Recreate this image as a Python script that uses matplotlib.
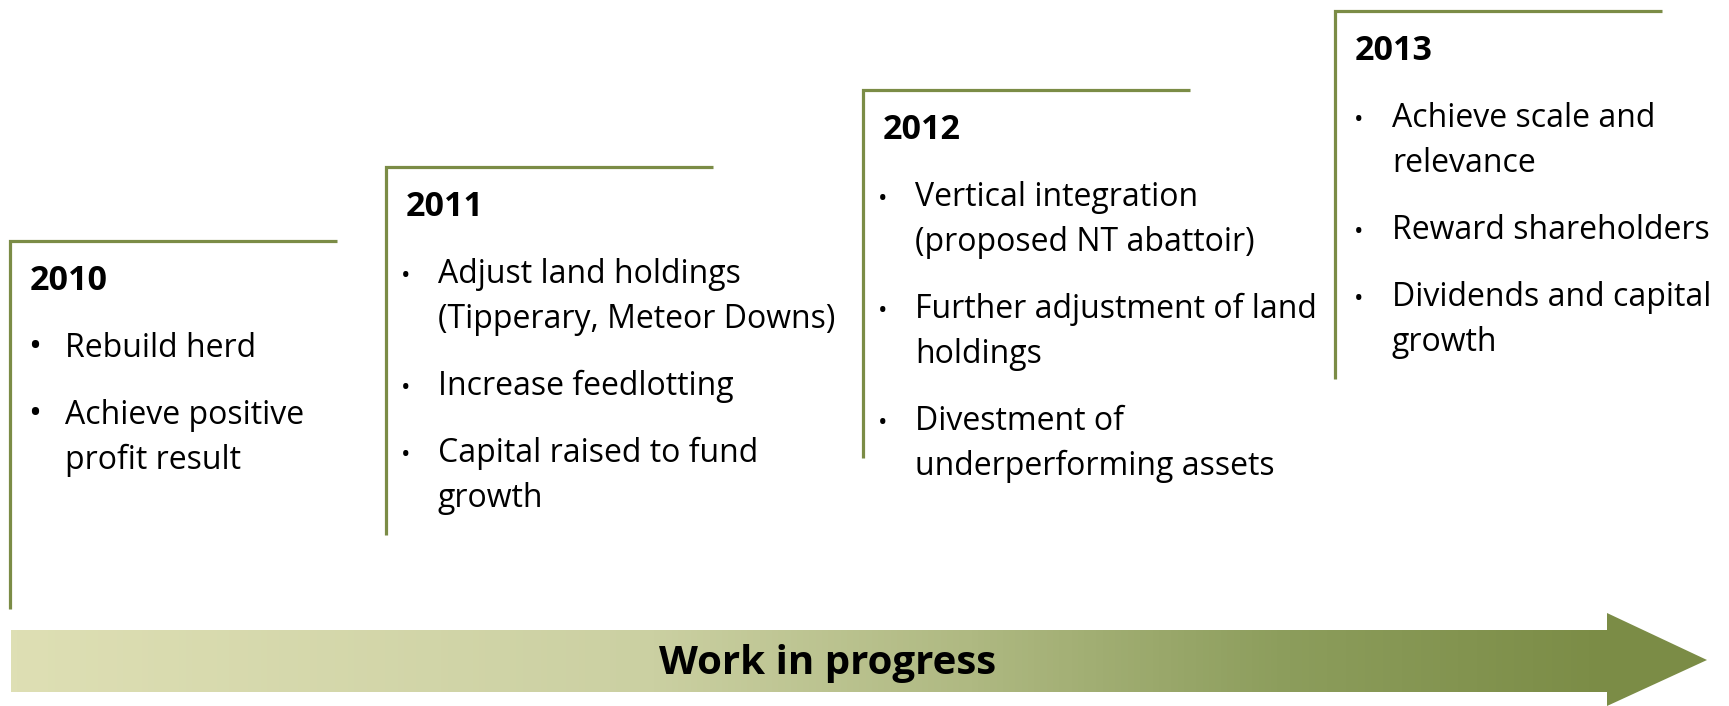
import matplotlib.pyplot as plt
import numpy as np
from matplotlib.colors import LinearSegmentedColormap
from matplotlib.patches import Polygon

plt.rcParams['font.family'] = ['Open Sans', 'DejaVu Sans']

# content
years = ['2010', '2011', '2012', '2013']
items_2010 = ['Rebuild herd', 'Achieve positive\nprofit result']
items_2011 = ['Adjust land holdings\n(Tipperary, Meteor Downs)', 'Increase feedlotting',
              'Capital raised to fund\ngrowth']
items_2012 = ['Vertical integration\n(proposed NT abattoir)', 'Further adjustment of land\nholdings',
              'Divestment of\nunderperforming assets']
items_2013 = ['Achieve scale and\nrelevance', 'Reward shareholders', 'Dividends and capital\ngrowth']
items = [items_2010, items_2011, items_2012, items_2013]
arrow_label = 'Work in progress'

# layout (pixel coords of the 1729x706 canvas)
W, H = 1729, 706
step_x = [10, 386, 863, 1335]
step_top = [241, 167, 90, 11]
text_dx = [55, 52, 52, 57]
bullet_dx = [18, 15, 15, 19]
step_h, step_w = 368, 327
green = '#7b8c46'

fig = plt.figure(figsize=(W / 100, H / 100), dpi=100)
ax = fig.add_axes([0, 0, 1, 1])
ax.set_xlim(0, W)
ax.set_ylim(H, 0)
ax.axis('off')

for i, (x0, y0) in enumerate(zip(step_x, step_top)):
    ax.plot([x0, x0, x0 + step_w], [y0 + step_h, y0, y0], color=green, lw=2.3,
            solid_joinstyle='miter', solid_capstyle='butt')
    ax.text(x0 + 20, y0 + 49, years[i], fontsize=24.5, fontweight='bold', va='baseline')
    y = y0 + 49 + 67
    for it in items[i]:
        lines = it.split('\n')
        ax.text(x0 + bullet_dx[i], y, '\u2022', fontsize=25 if i == 0 else 18, va='baseline')
        for k, ln in enumerate(lines):
            ax.text(x0 + text_dx[i], y + k * 45, ln, fontsize=23, va='baseline')
        y += (len(lines) - 1) * 45 + 67

# gradient arrow
body_x0, body_x1 = 11, 1608
body_y0, body_y1 = 630, 692
cmap = LinearSegmentedColormap.from_list('g', [
    (0.0, (222/255, 223/255, 180/255)),
    (0.4, (203/255, 208/255, 162/255)),
    (0.6, (175/255, 185/255, 130/255)),
    (0.8, (140/255, 157/255, 92/255)),
    (1.0, (123/255, 140/255, 70/255)),
])
grad = np.linspace(0, 1, 512).reshape(1, -1)
ax.imshow(grad, cmap=cmap, extent=[body_x0, body_x1, body_y1, body_y0], aspect='auto')
ax.add_patch(Polygon([[body_x1 - 1, 613], [1707, 660], [body_x1 - 1, 706]], closed=True,
                     facecolor=(123/255, 140/255, 70/255), edgecolor='none'))
ax.set_xlim(0, W)
ax.set_ylim(H, 0)
ax.text(828, 674, arrow_label, fontsize=29, fontweight='bold', ha='center', va='baseline')

fig.savefig('out.png', dpi=100)
